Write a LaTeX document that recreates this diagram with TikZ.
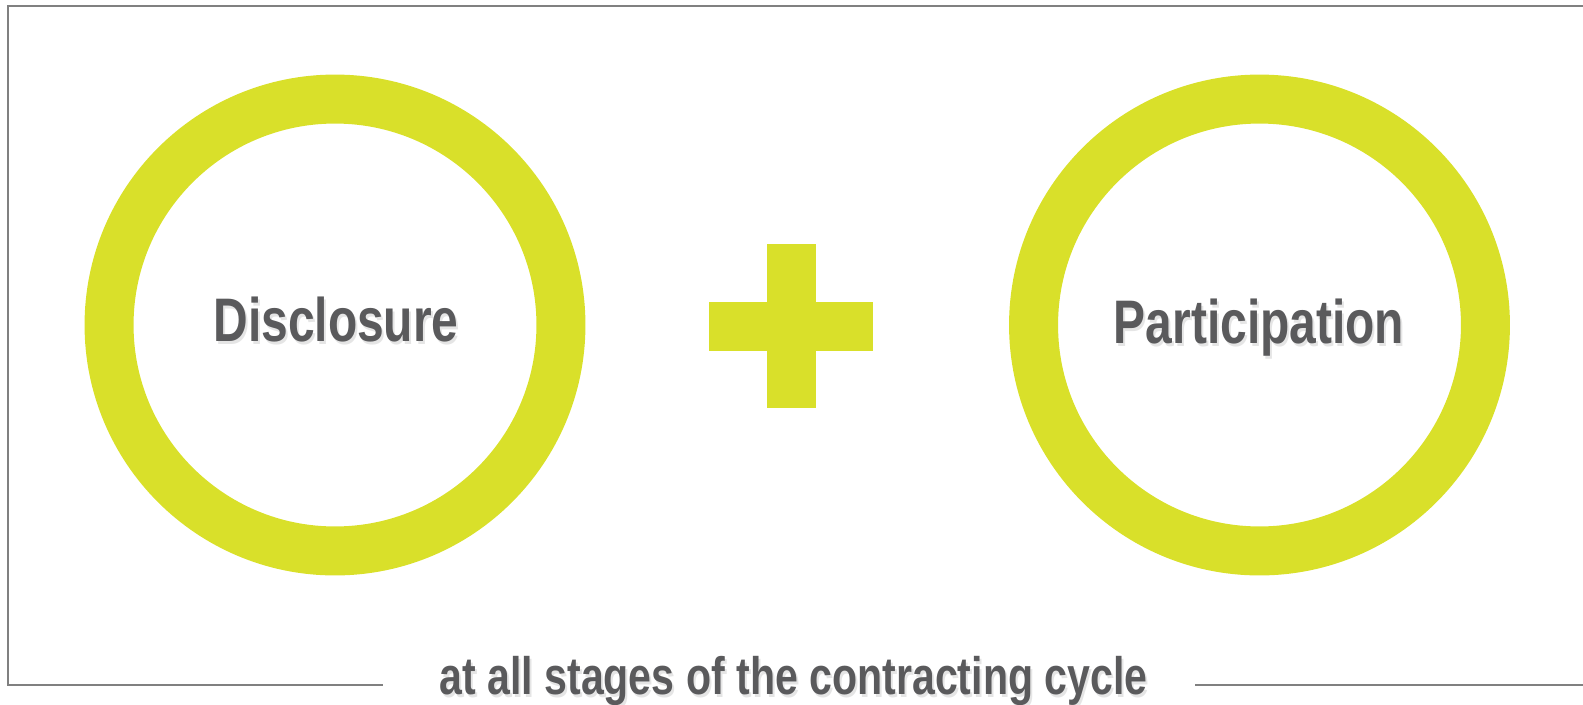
\documentclass[tikz,border=0pt]{standalone}
\usepackage{fontspec}
\newfontfamily\narrowfont{Liberation Sans}[FakeStretch=0.78]
\usetikzlibrary{positioning}

\definecolor{lime}{RGB}{217,224,42}
\definecolor{ink}{RGB}{90,90,92}
\definecolor{rule}{RGB}{128,128,128}

\begin{document}
\begin{tikzpicture}[x=0.02cm,y=-0.02cm,
  ring/.style={circle,draw=lime,line width=0.98cm,minimum size=9.04cm,inner sep=0pt},
  bar/.style={rectangle,fill=lime,inner sep=0pt},
  word/.style={anchor=base,inner sep=0pt,text=ink,font=\narrowfont\bfseries\fontsize{35}{42}\selectfont},
  foot/.style={word,font=\narrowfont\bfseries\fontsize{30}{36}\selectfont},
  glow/.style={text=black!25,opacity=0.4}]

% frame
\coordinate (tl) at (8,6);
\coordinate (tr) at (1583,6);
\coordinate (bl) at (8,685);
\coordinate (gl) at (383,685);
\coordinate (gr) at (1195,685);
\coordinate (br) at (1583,685);
\draw[rule,line width=1.2pt] (tr) -- (tl) -- (bl) -- (gl);
\draw[rule,line width=1.2pt] (gr) -- (br);

% rings and plus
\node[ring] (disc) at (335,325) {};
\node[ring] (part) at (1259.5,325) {};
\node[bar,minimum width=3.28cm,minimum height=0.98cm] (plush) at (791,326.5) {};
\node[bar,minimum width=0.98cm,minimum height=3.28cm] (plusv) at (791.5,326) {};

% texts
\node[word,glow] at (338,344) {Disclosure};
\node[word] (a) at (336,341) {Disclosure};
\node[word,glow] at (1261,346) {Participation};
\node[word] (b) at (1259,343) {Participation};
\node[foot,glow] at (795.5,697) {at all stages of the contracting cycle};
\node[foot] (c) at (793.5,694) {at all stages of the contracting cycle};

\pgfresetboundingbox
\useasboundingbox (0,0) rectangle (1583,704);
\end{tikzpicture}
\end{document}
